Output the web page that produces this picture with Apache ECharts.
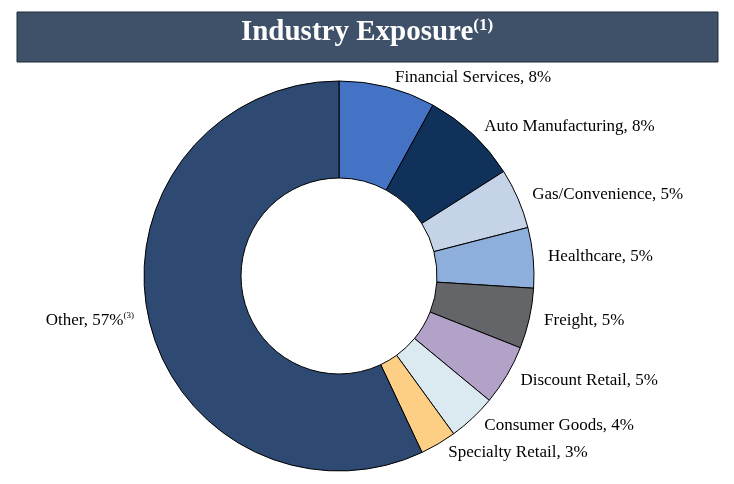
<!DOCTYPE html><html><head><meta charset="utf-8"><script src="https://cdn.jsdelivr.net/npm/echarts@6/dist/echarts.min.js"></script>
<style>body{margin:0;background:#fff}#c{width:734px;height:484px}</style></head><body><div id="c"></div><script>
const categories=["Financial Services","Auto Manufacturing","Gas/Convenience","Healthcare","Freight","Discount Retail","Consumer Goods","Specialty Retail","Other"];
const values=[8,8,5,5,5,5,4,3,57];
const colors=["#4472c4","#10325a","#c5d3e8","#8eaedb","#636569","#b3a2c8","#dbe9f1","#fdcf85","#2e4a72"];
const chart=echarts.init(document.getElementById('c'));
const serif='"Liberation Serif","DejaVu Serif",serif';
chart.setOption({
graphic:[{type:'rect',shape:{x:17,y:12,width:701,height:50},style:{fill:'#3f5069',stroke:'#1f2a38',lineWidth:1}},
{type:'text',left:'center',top:17,style:{rich:{a:{fontFamily:serif,fontSize:29,fontWeight:'bold',fill:'#fff'},s:{fontFamily:serif,fontSize:17,fontWeight:'bold',fill:'#fff',verticalAlign:'top',padding:[0,0,14,0]}},text:'{a|Industry Exposure}{s|(1)}'}}],
series:[{type:'pie',center:[339,276],radius:[98,195],startAngle:90,clockwise:true,
itemStyle:{borderColor:'#000',borderWidth:1},
label:{show:true,position:'outside',fontFamily:serif,fontSize:17,color:'#000',
formatter:p=>p.name==='Other'?'{a|Other, 57%}{s|(3)}':p.name+', '+p.value+'%',
rich:{a:{fontFamily:serif,fontSize:17,color:'#000'},s:{fontFamily:serif,fontSize:9,color:'#000',verticalAlign:'top',padding:[0,0,10,0]}}},
labelLine:{show:false,length:10,length2:0},
data:categories.map((n,i)=>({name:n,value:values[i],itemStyle:{color:colors[i]}}))}]
});
</script></body></html>
